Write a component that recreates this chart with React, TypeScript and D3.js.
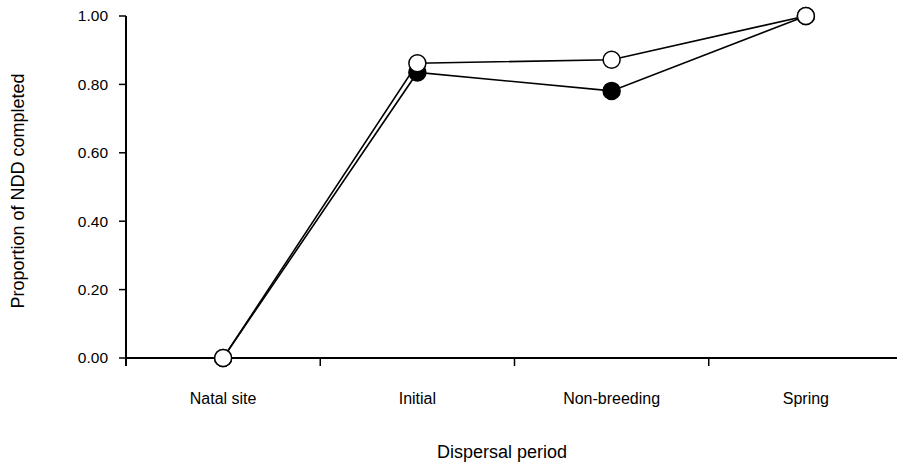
import React from "react";
import * as d3 from "d3";

const categories = ["Natal site", "Initial", "Non-breeding", "Spring"];
const seriesFilled = [0.0, 0.835, 0.781, 1.0];
const seriesOpen = [0.0, 0.862, 0.872, 1.0];
const yTicks = [0, 0.2, 0.4, 0.6, 0.8, 1.0];

const W = 897;
const H = 466;
const left = 126;
const right = 903;
const top = 16;
const bottom = 358;
const font = "'Liberation Sans', Arial, sans-serif";

export default function App() {
  const x = d3.scaleBand<string>().domain(categories).range([left, right]);
  const y = d3.scaleLinear().domain([0, 1]).range([bottom, top]);
  const cx = (c: string) => (x(c) as number) + x.bandwidth() / 2;
  const line = d3
    .line<number>()
    .x((_, i) => cx(categories[i]))
    .y((d) => y(d));
  const boundaries = [...categories.map((c) => x(c) as number), right];

  return (
    <svg
      width={W}
      height={H}
      style={{ position: "absolute", left: 0, top: 0, background: "#fff" }}
      fontFamily={font}
    >
      {/* axes */}
      <line x1={left} x2={W} y1={bottom} y2={bottom} stroke="#000" strokeWidth={2} />
      <line x1={left} x2={left} y1={top} y2={bottom + 8} stroke="#000" strokeWidth={2} />
      {yTicks.map((t) => (
        <g key={t}>
          <line x1={left - 7} x2={left} y1={y(t)} y2={y(t)} stroke="#000" strokeWidth={1.5} />
          <text x={108} y={y(t)} dy="0.35em" textAnchor="end" fontSize={15.5} fill="#000">
            {t.toFixed(2)}
          </text>
        </g>
      ))}
      {boundaries.slice(1).map((b, i) => (
        <line key={i} x1={b} x2={b} y1={bottom} y2={bottom + 8} stroke="#000" strokeWidth={1.5} />
      ))}
      {categories.map((c) => (
        <text key={c} x={cx(c)} y={404} textAnchor="middle" fontSize={16} fill="#000">
          {c}
        </text>
      ))}
      <text x={502} y={458} textAnchor="middle" fontSize={18} fill="#000">
        Dispersal period
      </text>
      <text
        transform={`translate(24,191) rotate(-90)`}
        textAnchor="middle"
        fontSize={18}
        fill="#000"
      >
        Proportion of NDD completed
      </text>
      {/* filled series */}
      <path d={line(seriesFilled) as string} fill="none" stroke="#000" strokeWidth={1.6} />
      {seriesFilled.map((v, i) => (
        <circle key={"f" + i} cx={cx(categories[i])} cy={y(v)} r={8.5} fill="#000" stroke="#000" strokeWidth={1.5} />
      ))}
      {/* open series */}
      <path d={line(seriesOpen) as string} fill="none" stroke="#000" strokeWidth={1.6} />
      {seriesOpen.map((v, i) => (
        <circle key={"o" + i} cx={cx(categories[i])} cy={y(v)} r={8.5} fill="#fff" stroke="#000" strokeWidth={1.5} />
      ))}
    </svg>
  );
}
